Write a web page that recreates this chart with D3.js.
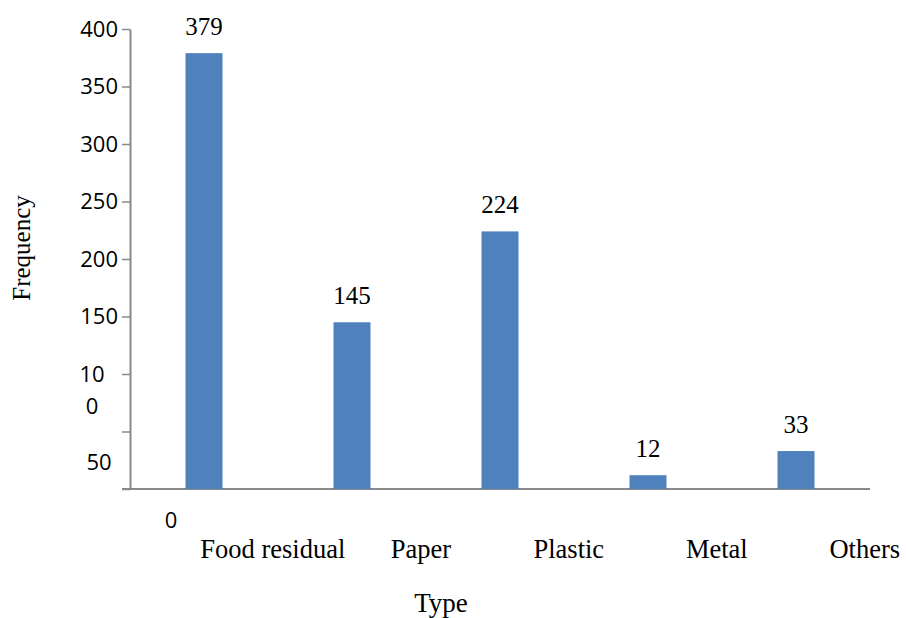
<!DOCTYPE html>
<html>
<head>
<meta charset="utf-8">
<script src="https://cdn.jsdelivr.net/npm/d3@7"></script>
<style>
  body { margin: 0; background: #fff; }
</style>
</head>
<body>
<svg id="barChart" width="906" height="618"></svg>
<script>
// data
const types = ["Food residual", "Paper", "Plastic", "Metal", "Others"];
const freq = [379, 145, 224, 12, 33];
const yTicks = [0, 50, 100, 150, 200, 250, 300, 350, 400];

const serif = "Liberation Serif";
const sans = "Open Sans";

const svg = d3.select("#barChart"),
    margin = {top: 29, right: 36, bottom: 129, left: 130},
    width = 906 - margin.left - margin.right,
    height = 618 - margin.top - margin.bottom;

const g = svg.append("g")
    .attr("transform", "translate(" + margin.left + "," + margin.top + ")");

const x = d3.scaleBand()
    .domain(types)
    .range([0, 740])
    .padding(0);

const y = d3.scaleLinear()
    .domain([0, 400])
    .range([height, 0]);

const barW = 37;

// y axis (labels >= 150 only, the low ones sit out of place in the original)
const yAx = g.append("g")
    .attr("class", "yAxis")
    .call(d3.axisLeft(y).tickValues(yTicks).tickSize(8).tickSizeOuter(0).tickPadding(4)
        .tickFormat(d => d >= 150 ? d : ""));
yAx.attr("font-family", sans).attr("font-size", 22);
yAx.select(".domain").attr("stroke", "#898989").attr("stroke-width", 2);
yAx.selectAll(".tick line").attr("stroke", "#898989").attr("stroke-width", 1.5);
yAx.selectAll(".tick text").attr("fill", "#000");

// odd placed low labels
const lowLabels = [
  {t: "10", v: 100, dx: -38, dy: 0},
  {t: "0", v: 100, dx: -38, dy: 32},
  {t: "50", v: 50, dx: -31, dy: 31},
  {t: "0", v: 0, dx: 41, dy: 31}
];
g.selectAll("text.low")
    .data(lowLabels)
    .enter()
    .append("text")
    .attr("class", "low")
    .attr("x", d => d.dx)
    .attr("y", d => y(d.v) + d.dy)
    .attr("dy", "0.35em")
    .attr("font-family", sans)
    .attr("font-size", 22)
    .attr("text-anchor", "middle")
    .text(d => d.t);

// x axis line
g.append("line")
    .attr("x1", -8).attr("x2", 740)
    .attr("y1", y(0)).attr("y2", y(0))
    .attr("stroke", "#898989").attr("stroke-width", 2);

// bars
g.selectAll("rect.bar")
    .data(types)
    .enter()
    .append("rect")
    .attr("class", "bar")
    .attr("x", d => x(d) + x.bandwidth() / 2 - barW / 2)
    .attr("y", (d, i) => y(freq[i]))
    .attr("width", barW)
    .attr("height", (d, i) => y(0) - y(freq[i]))
    .attr("fill", "#4F81BD");

// value labels
const vals = g.append("g")
    .attr("font-family", serif)
    .attr("font-size", 25)
    .attr("text-anchor", "middle");
vals.selectAll("text")
    .data(types)
    .enter()
    .append("text")
    .attr("x", d => x(d) + x.bandwidth() / 2)
    .attr("y", (d, i) => y(freq[i]) - 18)
    .text((d, i) => freq[i]);

// category labels, shifted right like the original
const cats = g.append("g")
    .attr("font-family", serif)
    .attr("font-size", 26.5)
    .attr("text-anchor", "middle");
cats.selectAll("text")
    .data(types)
    .enter()
    .append("text")
    .attr("x", d => x(d) + x.bandwidth() * 0.965)
    .attr("y", y(0) + 69)
    .text(d => d);

// axis titles
svg.append("text")
    .attr("transform", "translate(30,248) rotate(-90)")
    .attr("font-family", serif)
    .attr("font-size", 25)
    .attr("text-anchor", "middle")
    .text("Frequency");

svg.append("text")
    .attr("x", 441).attr("y", 612)
    .attr("font-family", serif)
    .attr("font-size", 27)
    .attr("text-anchor", "middle")
    .text("Type");
</script>
</body>
</html>
